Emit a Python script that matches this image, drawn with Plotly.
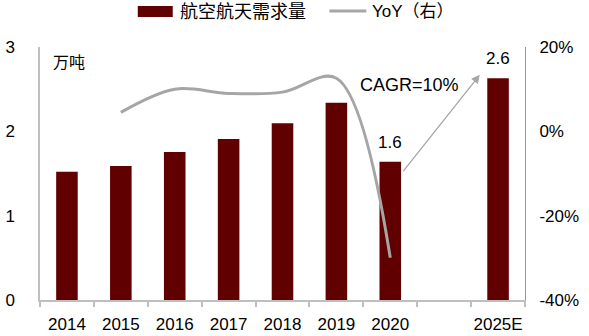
import plotly.graph_objects as go

# ---- data ----
categories = ["2014", "2015", "2016", "2017", "2018", "2019", "2020", "", "2025E"]
bar_x = [0, 1, 2, 3, 4, 5, 6, 8]
bar_labels = ["2014", "2015", "2016", "2017", "2018", "2019", "2020", "2025E"]
demand = [1.52, 1.59, 1.755, 1.91, 2.095, 2.34, 1.64, 2.63]   # 万吨
yoy_x = [1, 2, 3, 4, 5, 6]
yoy = [4.5, 10.0, 9.0, 9.3, 12.6, -30.0]                      # %
label_idx = [6, 7]        # bars with value labels (2020, 2025E)
cagr_text = "CAGR=10%"
left_ticks = [0, 1, 2, 3]
right_ticks = [-40, -20, 0, 20]
right_tick_text = ["-40%", "-20%", "0%", "20%"]

FONT = "Liberation Sans, Arial, Noto Sans CJK SC"
BAR_COLOR = "#600000"
LINE_COLOR = "#A6A6A6"
AXIS_COLOR = "#BFBFBF"

fig = go.Figure()
fig.add_trace(go.Bar(x=bar_x, y=demand, width=0.4, marker=dict(color=BAR_COLOR, line=dict(width=0)),
                     name="航空航天需求量", showlegend=False))
fig.add_trace(go.Scatter(x=yoy_x, y=yoy, yaxis="y2", mode="lines",
                         line=dict(color=LINE_COLOR, width=3, shape="spline", smoothing=1.0),
                         name="YoY（右）", showlegend=False))

annotations = []
for i in label_idx:
    annotations.append(dict(x=bar_x[i], y=demand[i], xref="x", yref="y", text=f"{demand[i]:.1f}",
                            showarrow=False, yanchor="bottom", yshift=8,
                            font=dict(size=17, color="#000")))
# CAGR arrow (from 2020 bar to 2025E bar)
annotations.append(dict(x=bar_x[7] - 0.34, y=demand[7] + 0.04, ax=bar_x[6] + 0.22, ay=demand[6] - 0.13,
                        xref="x", yref="y", axref="x", ayref="y", text="", showarrow=True,
                        arrowhead=2, arrowsize=1.3, arrowwidth=1.3, arrowcolor=LINE_COLOR, standoff=0, startstandoff=0))
annotations.append(dict(x=6.35, y=2.55, xref="x", yref="y", text=cagr_text, showarrow=False,
                        font=dict(size=18, color="#000")))
# unit
annotations.append(dict(x=0.022, y=0.98, xref="paper", yref="paper", text="万吨", showarrow=False,
                        xanchor="left", font=dict(size=16, color="#000")))
# manual legend texts
annotations.append(dict(x=0.284, y=1.14, xref="paper", yref="paper", text="航空航天需求量", showarrow=False,
                        xanchor="left", yanchor="middle", font=dict(size=18, color="#000")))
annotations.append(dict(x=0.681, y=1.14, xref="paper", yref="paper", text="YoY（右）", showarrow=False,
                        xanchor="left", yanchor="middle", font=dict(size=17, color="#000")))

shapes = [
    dict(type="rect", xref="paper", yref="paper", x0=0.2016, x1=0.2737, y0=1.1186, y1=1.162,
         fillcolor=BAR_COLOR, line=dict(width=0)),
    dict(type="line", xref="paper", yref="paper", x0=0.5967, x1=0.6728, y0=1.142, y1=1.142,
         line=dict(color=LINE_COLOR, width=3)),
]

fig.update_layout(
    template="none",
    width=589, height=336,
    margin=dict(l=40, r=64, t=47, b=36, autoexpand=False),
    paper_bgcolor="white", plot_bgcolor="white",
    font=dict(family=FONT, size=17, color="#000"),
    showlegend=False,
    annotations=annotations, shapes=shapes,
    xaxis=dict(range=[-0.5, 8.5], tickmode="array", tickvals=bar_x, ticktext=bar_labels, automargin=False,
               ticks="", showline=True, linecolor=AXIS_COLOR, linewidth=1.5, showgrid=False, zeroline=False,
               minor=dict(tickmode="array", tickvals=[i - 0.5 for i in range(10)], ticks="outside",
                          ticklen=5, tickcolor=AXIS_COLOR, tickwidth=1.5, showgrid=False),
               tickfont=dict(size=17), ticklabelstandoff=8),
    yaxis=dict(range=[0, 3], tickmode="array", tickvals=left_ticks, showline=True, linecolor=AXIS_COLOR,
               linewidth=1.5, automargin=False,
               showgrid=False, zeroline=False, ticks="", ticklabelstandoff=20, tickfont=dict(size=17)),
    yaxis2=dict(range=[-40, 20], tickmode="array", tickvals=right_ticks, ticktext=right_tick_text,
                overlaying="y", side="right", automargin=False,
                showline=True, linecolor="#999999", linewidth=1, showgrid=False, zeroline=False, ticks="",
                ticklabelstandoff=10, tickfont=dict(size=17)),
)

fig.write_html("out.html")
